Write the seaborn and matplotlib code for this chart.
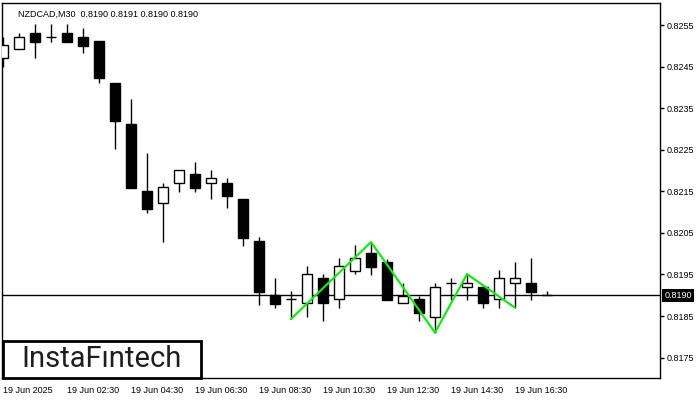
import matplotlib
matplotlib.use("Agg")
import matplotlib.pyplot as plt
import matplotlib.transforms as mtransforms
from matplotlib.patches import Rectangle
import seaborn as sns
import pandas as pd

# chart text
title = "NZDCAD,M30  0.8190 0.8191 0.8190 0.8190"
logo_text = "InstaF\u0131ntech"

# 30 minute candles
opens = [0.82471, 0.82492, 0.82531, 0.82521, 0.82531, 0.82521, 0.82512, 0.82411, 0.82312,
         0.82151, 0.82122, 0.82170, 0.82192, 0.82170, 0.82170, 0.82132, 0.82031, 0.81901,
         0.81891, 0.81882, 0.81942, 0.81891, 0.81959, 0.82002, 0.81980, 0.81882, 0.81891,
         0.81848, 0.81930, 0.81920, 0.81920, 0.81891, 0.81930, 0.81930, 0.81900]
highs = [0.82521, 0.82531, 0.82552, 0.82552, 0.82552, 0.82543, 0.82512, 0.82411, 0.82372,
         0.82242, 0.82170, 0.82201, 0.82221, 0.82201, 0.82182, 0.82132, 0.82040, 0.81942,
         0.81910, 0.81971, 0.81951, 0.81990, 0.82021, 0.82028, 0.81987, 0.81930, 0.81899,
         0.81930, 0.81942, 0.81951, 0.81920, 0.81961, 0.81980, 0.81990, 0.81910]
lows = [0.82449, 0.82492, 0.82471, 0.82509, 0.82509, 0.82483, 0.82411, 0.82252, 0.82158,
        0.82098, 0.82028, 0.82149, 0.82149, 0.82132, 0.82110, 0.82019, 0.81877, 0.81870,
        0.81843, 0.81848, 0.81838, 0.81870, 0.81951, 0.81949, 0.81889, 0.81882, 0.81838,
        0.81810, 0.81889, 0.81889, 0.81870, 0.81870, 0.81870, 0.81889, 0.81900]
closes = [0.82502, 0.82521, 0.82509, 0.82521, 0.82509, 0.82500, 0.82423, 0.82319, 0.82158,
          0.82108, 0.82161, 0.82201, 0.82158, 0.82182, 0.82139, 0.82038, 0.81908, 0.81879,
          0.81891, 0.81951, 0.81882, 0.81971, 0.81990, 0.81968, 0.81889, 0.81899, 0.81858,
          0.81920, 0.81930, 0.81930, 0.81882, 0.81942, 0.81942, 0.81908, 0.81900]

# pattern (green zigzag)
pattern_idx = [18, 23, 27, 29, 32]
pattern_price = [0.81843, 0.82028, 0.81810, 0.81951, 0.81870]

current_price = 0.8190

x_tick_pos = [0, 4, 8, 12, 16, 20, 24, 28, 32]
x_tick_labels = ["19 Jun 2025", "19 Jun 02:30", "19 Jun 04:30", "19 Jun 06:30", "19 Jun 08:30",
                 "19 Jun 10:30", "19 Jun 12:30", "19 Jun 14:30", "19 Jun 16:30"]
y_ticks = [0.8175, 0.8185, 0.8195, 0.8205, 0.8215, 0.8225, 0.8235, 0.8245, 0.8255]

df = pd.DataFrame({"open": opens, "high": highs, "low": lows, "close": closes})
df["idx"] = range(len(df))

sns.set_style("white")
plt.rcParams['font.family'] = ['Liberation Sans', 'DejaVu Sans']

fig = plt.figure(figsize=(7, 4), dpi=100)
ax = fig.add_axes([2 / 700, 22 / 400, 658 / 700, 375 / 400])

# wicks
ax.vlines(df["idx"], df["low"], df["high"], color="black", linewidth=1, zorder=2)

# bodies
body_w = 0.62
bull = df["close"] >= df["open"]
bottoms = df[["open", "close"]].min(axis=1)
heights = (df["close"] - df["open"]).abs()
ax.bar(df["idx"], heights, bottom=bottoms, width=body_w,
       color=["white" if b else "black" for b in bull],
       edgecolor="black", linewidth=1, zorder=3)

# current price line
ax.axhline(current_price, color="black", linewidth=1, zorder=1)

# pattern line
sns.lineplot(x=pattern_idx, y=pattern_price, ax=ax, color="#19e619", linewidth=1.6,
             sort=False, estimator=None, zorder=4)

ax.set_xlim(-0.0625, 41.06)
ax.set_ylim(0.81701, 0.82603)

ax.yaxis.tick_right()
ax.set_yticks(y_ticks)
ax.set_yticklabels([f"{v:.4f}" for v in y_ticks])
ax.set_xticks(x_tick_pos)
ax.set_xticklabels(x_tick_labels, ha="left")
ax.tick_params(axis="both", which="both", direction="out", length=3, width=1,
               colors="black", labelsize=6.5, pad=2)
ax.tick_params(axis="x", pad=3)
for s in ax.spines.values():
    s.set_visible(True)
    s.set_color("black")
    s.set_linewidth(1)
ax.set_xlabel("")
ax.set_ylabel("")
ax.grid(False)

# price tag
trans = mtransforms.blended_transform_factory(ax.transAxes, ax.transData)
ax.text(1.007, current_price, "0.8190", transform=trans, ha="left", va="center",
        fontsize=6.5, color="white", clip_on=False,
        bbox=dict(facecolor="black", edgecolor="none", pad=1.6))

# title
ax.text(16 / 658, 1 - 7 / 375, title, transform=ax.transAxes, ha="left", va="top",
        fontsize=6.5, color="black")

# logo
fig.patches.append(Rectangle((3 / 700, 22 / 400), 198 / 700, 37 / 400, transform=fig.transFigure,
                             facecolor="white", edgecolor="black", linewidth=2, zorder=5))
fig.text(101 / 700, 41 / 400, logo_text, ha="center", va="center", fontsize=21,
         color="#1e1e1e", family=["Roboto", "DejaVu Sans"], zorder=6)

fig.savefig("out.png", dpi=100)
